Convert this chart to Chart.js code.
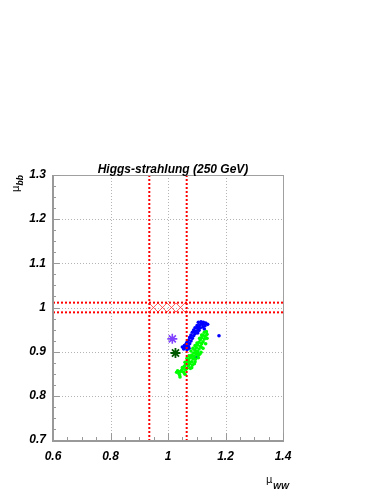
<!DOCTYPE html>
<html>
<head>
<meta charset="utf-8">
<script src="https://cdn.jsdelivr.net/npm/chart.js@4.4.1/dist/chart.umd.min.js"></script>
<style>
  html, body { margin: 0; padding: 0; background: #fff; }
  canvas { display: block; }
</style>
</head>
<body>
<canvas id="chart" width="382" height="494"></canvas>
<script>
const titleText = 'Higgs-strahlung (250 GeV)';
const xTicks = [0.6, 0.8, 1.0, 1.2, 1.4];
const yTicks = [0.7, 0.8, 0.9, 1.0, 1.1, 1.2, 1.3];

// ±1 sigma band lines
const wwBand = [0.935, 1.065];
const bbBand = [0.989, 1.011];

// blue scan points
const blueX = [1.1055, 1.1148, 1.1229, 1.131, 1.138, 1.1195, 1.1102, 1.1009, 1.1287, 1.094,
               1.1032, 1.1125, 1.1218, 1.0893, 1.0986, 1.1079, 1.0847, 1.094, 1.1032, 1.08,
               1.0893, 1.0754, 1.0847, 1.0708, 1.08, 1.0661, 1.0754, 1.0615, 1.0708, 1.0592,
               1.0661, 1.0731, 1.0545, 1.1774, 1.1264, 1.0963, 1.0638, 1.0499, 1.0568, 1.117,
               1.106, 1.0915, 1.0775, 1.064];
const blueY = [0.9664, 0.9679, 0.9664, 0.9649, 0.9619, 0.9619, 0.9604, 0.9589, 0.9589, 0.9543,
               0.9528, 0.9543, 0.9558, 0.949, 0.9468, 0.9483, 0.9438, 0.9407, 0.9422, 0.9377,
               0.9362, 0.9317, 0.9302, 0.9257, 0.9241, 0.9211, 0.9181, 0.9151, 0.9121, 0.909,
               0.9045, 0.9075, 0.906, 0.9362, 0.9513, 0.8864, 0.9105, 0.9105, 0.9136, 0.9635,
               0.9555, 0.945, 0.933, 0.9185];

// green scan points
const greenX = [1.1264, 1.1334, 1.1357, 1.1218, 1.1287, 1.1171, 1.1264, 1.1125, 1.1218, 1.1079,
                1.1171, 1.1032, 1.1125, 1.0986, 1.1079, 1.094, 1.1032, 1.0893, 1.0986, 1.0824,
                1.0916, 1.0777, 1.087, 1.0708, 1.0824, 1.0661, 1.0754, 1.0615, 1.0708, 1.0568,
                1.0661, 1.0522, 1.0615, 1.0476, 1.043, 1.0383, 1.0545, 1.0777, 1.0847, 1.094,
                1.1055, 1.1102, 1.03, 1.0335, 1.115, 1.1, 1.086, 1.072,
                1.0731, 1.1055, 1.0661, 1.0963, 1.0592, 1.0916, 1.0499, 1.0824, 1.0406, 1.0592,
                1.0418, 1.08, 1.087, 1.094, 1.1009, 1.1102, 1.1171, 1.1218, 1.131, 1.1357,
                1.1148];
const greenY = [0.9438, 0.9453, 0.9392, 0.9377, 0.9347, 0.9317, 0.9287, 0.9272, 0.9226, 0.9211,
                0.9181, 0.9151, 0.9121, 0.909, 0.906, 0.903, 0.900, 0.897, 0.894, 0.8924,
                0.8894, 0.8864, 0.8834, 0.8819, 0.8773, 0.8773, 0.8728, 0.8713, 0.8683, 0.8668,
                0.8622, 0.8622, 0.8592, 0.8577, 0.8547, 0.8502, 0.8532, 0.8622, 0.8698, 0.8773,
                0.8864, 0.894, 0.8535, 0.8565, 0.9105, 0.8985, 0.8895, 0.877,
                0.8909, 0.8924, 0.8849, 0.8834, 0.8758, 0.8728, 0.8638, 0.8638, 0.8472, 0.8487,
                0.8426, 0.9015, 0.9075, 0.9136, 0.9196, 0.9302, 0.9377, 0.9075, 0.918, 0.9302,
                0.8985];

// asterisk markers
const purpleStar = [1.015, 0.929];
const darkGreenStar = [1.026, 0.897];

const toPoints = (xs, ys) => xs.map((x, i) => ({ x: x, y: ys[i] }));

const tickFont = { family: "'Liberation Sans', Arial, sans-serif", size: 12, weight: 'bold', style: 'italic' };
const fmt = v => (Math.abs(v - 1) < 1e-9 ? '1' : (Math.round(v * 10) / 10).toFixed(1));

const decor = {
    id: 'decor',
    beforeDatasetsDraw(chart) {
        const { ctx, chartArea: a, scales: { x, y } } = chart;
        ctx.save();
        // dotted grid
        ctx.strokeStyle = '#b4b4b4';
        ctx.lineWidth = 1;
        ctx.setLineDash([1, 2]);
        xTicks.slice(1, -1).forEach(v => {
            const px = Math.round(x.getPixelForValue(v)) + 0.5;
            ctx.beginPath(); ctx.moveTo(px, a.top); ctx.lineTo(px, a.bottom); ctx.stroke();
        });
        yTicks.slice(1, -1).forEach(v => {
            const py = Math.round(y.getPixelForValue(v)) + 0.5;
            ctx.beginPath(); ctx.moveTo(a.left, py); ctx.lineTo(a.right, py); ctx.stroke();
        });
        ctx.setLineDash([]);
        // cross-hatched box
        const x0 = x.getPixelForValue(wwBand[0]), x1 = x.getPixelForValue(wwBand[1]);
        const y0 = y.getPixelForValue(bbBand[1]), y1 = y.getPixelForValue(bbBand[0]);
        ctx.beginPath(); ctx.rect(x0, y0, x1 - x0, y1 - y0); ctx.clip();
        ctx.strokeStyle = 'rgba(255,60,60,0.8)';
        ctx.lineWidth = 1;
        const h = y1 - y0;
        for (let s = x0 - h; s < x1 + h; s += 9) {
            ctx.beginPath(); ctx.moveTo(s, y1); ctx.lineTo(s + h, y0); ctx.stroke();
            ctx.beginPath(); ctx.moveTo(s, y0); ctx.lineTo(s + h, y1); ctx.stroke();
        }
        ctx.restore();
    },
    afterDatasetsDraw(chart) {
        const { ctx, chartArea: a, scales: { x, y } } = chart;
        ctx.save();
        // red dotted band lines
        ctx.strokeStyle = '#ff0000';
        ctx.lineWidth = 2;
        ctx.setLineDash([2, 2]);
        wwBand.forEach(v => {
            const px = x.getPixelForValue(v);
            ctx.beginPath(); ctx.moveTo(px, a.top); ctx.lineTo(px, a.bottom); ctx.stroke();
        });
        bbBand.forEach(v => {
            const py = y.getPixelForValue(v);
            ctx.beginPath(); ctx.moveTo(a.left, py); ctx.lineTo(a.right, py); ctx.stroke();
        });
        ctx.setLineDash([]);
        ctx.restore();
    },
    afterDraw(chart) {
        const { ctx, chartArea: a, scales: { x, y } } = chart;
        ctx.save();
        // frame
        ctx.strokeStyle = '#a0a0a0';
        ctx.lineWidth = 1;
        ctx.strokeRect(a.left + 0.5, a.top + 0.5, a.right - a.left, a.bottom - a.top);
        ctx.strokeStyle = '#999999';
        ctx.lineWidth = 2;
        ctx.beginPath();
        ctx.moveTo(a.left, a.top); ctx.lineTo(a.left, a.bottom + 1); ctx.lineTo(a.right + 1, a.bottom + 1);
        ctx.stroke();
        // axis tick marks
        ctx.lineWidth = 1;
        for (let i = 0; i <= 24; i++) {
            const py = Math.round(y.getPixelForValue(0.7 + i * 0.025)) + 0.5;
            const len = i % 4 === 0 ? 7 : 3;
            ctx.beginPath(); ctx.moveTo(a.left, py); ctx.lineTo(a.left + len, py); ctx.stroke();
        }
        for (let i = 0; i <= 16; i++) {
            const px = Math.round(x.getPixelForValue(0.6 + i * 0.05)) + 0.5;
            const len = i % 4 === 0 ? 7 : 3;
            ctx.beginPath(); ctx.moveTo(px, a.bottom); ctx.lineTo(px, a.bottom - len); ctx.stroke();
        }
        // title
        ctx.fillStyle = '#000';
        ctx.font = "italic bold 12px 'Liberation Sans', Arial, sans-serif";
        ctx.textAlign = 'center';
        ctx.textBaseline = 'alphabetic';
        ctx.fillText(titleText, 173, 173);
        // x axis title
        ctx.textAlign = 'left';
        ctx.font = "10px 'DejaVu Sans', sans-serif";
        ctx.fillText('\u03bc', 266, 483);
        ctx.font = "italic bold 8.5px 'Liberation Sans', Arial, sans-serif";
        ctx.fillText('WW', 273, 488.5);
        // y axis title
        ctx.translate(19, 192);
        ctx.rotate(-Math.PI / 2);
        ctx.font = "10px 'DejaVu Sans', sans-serif";
        ctx.fillText('\u03bc', 0, 0);
        ctx.font = "italic bold 8.5px 'Liberation Sans', Arial, sans-serif";
        ctx.fillText('bb', 6.5, 4);
        ctx.restore();
    }
};

new Chart(document.getElementById('chart'), {
    type: 'scatter',
    data: {
        datasets: [
            {
                label: 'green',
                data: toPoints(greenX, greenY),
                backgroundColor: '#00ff00',
                borderWidth: 0,
                pointRadius: 1.8
            },
            {
                label: 'blue',
                data: toPoints(blueX, blueY),
                backgroundColor: '#0000ff',
                borderWidth: 0,
                pointRadius: 1.8
            },
            {
                label: 'purple',
                data: [{ x: purpleStar[0], y: purpleStar[1] }],
                pointStyle: 'star',
                borderColor: '#8040ff',
                borderWidth: 1.6,
                pointRadius: 5
            },
            {
                label: 'darkgreen',
                data: [{ x: darkGreenStar[0], y: darkGreenStar[1] }],
                pointStyle: 'star',
                borderColor: '#005a00',
                borderWidth: 1.8,
                pointRadius: 5
            }
        ]
    },
    options: {
        responsive: false,
        animation: false,
        devicePixelRatio: 1,
        layout: { padding: { left: 0, top: 175, right: 99, bottom: 0 } },
        plugins: { legend: { display: false }, tooltip: { enabled: false }, title: { display: false } },
        events: [],
        scales: {
            x: {
                type: 'linear',
                min: 0.6,
                max: 1.4,
                afterBuildTicks: s => { s.ticks = xTicks.map(v => ({ value: v })); },
                afterFit: s => { s.height = 54; },
                grid: { display: false, drawTicks: false },
                border: { display: false },
                ticks: { padding: 9, color: '#000', font: tickFont, maxRotation: 0, callback: fmt }
            },
            y: {
                type: 'linear',
                min: 0.7,
                max: 1.3,
                afterBuildTicks: s => { s.ticks = yTicks.map(v => ({ value: v })); },
                afterFit: s => { s.width = 53; },
                grid: { display: false, drawTicks: false },
                border: { display: false },
                ticks: { padding: 7, color: '#000', font: tickFont, callback: fmt }
            }
        }
    },
    plugins: [decor]
});
</script>
</body>
</html>
